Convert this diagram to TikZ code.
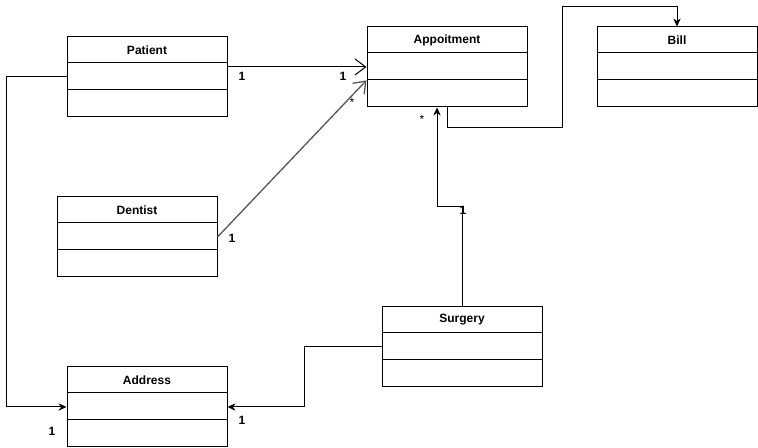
\documentclass[tikz,border=0pt]{standalone}
\usepackage{fontspec}
\setmainfont{Liberation Sans}
\usetikzlibrary{arrows.meta}

\tikzset{
  classbox/.style={draw=black, line width=0.75pt, minimum width=120pt, minimum height=60pt, inner sep=0pt},
  classtitle/.style={font=\bfseries\fontsize{9}{11}\selectfont, inner sep=0pt},
  mult/.style={font=\bfseries\fontsize{9}{11}\selectfont, inner sep=0pt},
  star/.style={font=\fontsize{9}{11}\selectfont, inner sep=0pt},
  assoc/.style={draw=black, line width=0.75pt, -{Straight Barb[length=8pt,width=12pt]}},
  link/.style={draw=black, line width=0.75pt, -{Stealth[length=6pt,width=5.5pt]}}
}

\begin{document}
\begin{tikzpicture}[x=0.75pt,y=-0.75pt]
\useasboundingbox (0,0) rectangle (758,448);
% classes
\node[classbox] (patient) at (147,77) {};
\node[classtitle] (patienttitle) at (147,50) {Patient};
\draw[line width=0.75pt] (67,63) -- (227,63) (67,90) -- (227,90);
\node[classbox] (appt) at (447,67) {};
\node[classtitle] (appttitle) at (447,40) {Appoitment};
\draw[line width=0.75pt] (367,53) -- (527,53) (367,80) -- (527,80);
\node[classbox] (bill) at (677,67) {};
\node[classtitle] (billtitle) at (677,40) {Bill};
\draw[line width=0.75pt] (597,53) -- (757,53) (597,80) -- (757,80);
\node[classbox] (dentist) at (137,237) {};
\node[classtitle] (dentisttitle) at (137,210) {Dentist};
\draw[line width=0.75pt] (57,223) -- (217,223) (57,250) -- (217,250);
\node[classbox] (surgery) at (462,347) {};
\node[classtitle] (surgerytitle) at (462,320) {Surgery};
\draw[line width=0.75pt] (382,333) -- (542,333) (382,360) -- (542,360);
\node[classbox] (address) at (147,407) {};
\node[classtitle] (addresstitle) at (147,380) {Address};
\draw[line width=0.75pt] (67,393) -- (227,393) (67,420) -- (227,420);

% connectors
\draw[assoc] (patient.east |- appt.west) -- (appt.west);
\draw[assoc, draw=black!65, line width=1pt] (dentist.east) -- ([yshift=-10pt]appt.west);
\draw[link] (patient.west) -- ++(-60,0) |- (address.west);
\draw[link] (surgery.west) -- ++(-77,0) |- (address.east);
\draw[link] (surgery.north) -- ++(0,-100) -| ([xshift=-7.5pt]appt.south);
\draw[link] (appt.south) -- ++(0,20) -| (562,7) -| (bill.north);

% multiplicities
\node[mult] (m1) at (242,76) {1};
\node[mult] (m2) at (343,76) {1};
\node[mult] (m3) at (232,238) {1};
\node[star] (m4) at (352,102) {*};
\node[mult] (m5) at (52,431) {1};
\node[mult] (m6) at (242,420) {1};
\node[mult] (m7) at (463,210) {1};
\node[star] (m8) at (422,119) {*};
\end{tikzpicture}
\end{document}
